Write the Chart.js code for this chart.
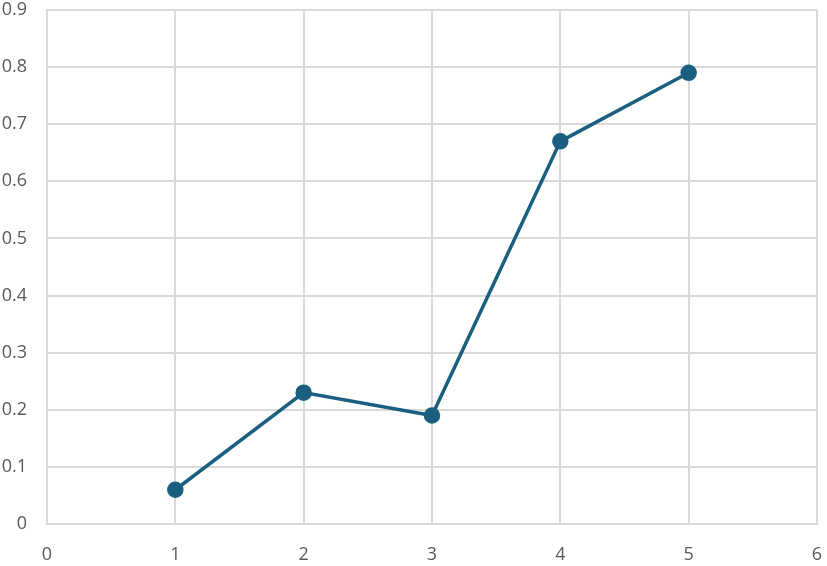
<!DOCTYPE html>
<html>
<head>
<meta charset="utf-8">
<script src="https://cdn.jsdelivr.net/npm/chart.js@4"></script>
<style>
  body { margin: 0; background: #fff; }
  #wrap { width: 827px; height: 566px; }
</style>
</head>
<body>
<div id="wrap"><canvas id="chart" width="827" height="566"></canvas></div>
<script>
// data //
const xValues = [1, 2, 3, 4, 5];
const yValues = [0.06, 0.23, 0.19, 0.67, 0.79];
const xTicks = [0, 1, 2, 3, 4, 5, 6];
const yTicks = [0, 0.1, 0.2, 0.3, 0.4, 0.5, 0.6, 0.7, 0.8, 0.9];

const points = xValues.map((x, i) => ({ x: x, y: yValues[i] }));
const lineColor = '#1a5e80';
const gridColor = '#d9d9d9';
const labelFont = { family: 'Open Sans, Liberation Sans, sans-serif', size: 18 };

const ctx = document.getElementById('chart');
new Chart(ctx, {
  type: 'line',
  data: {
    datasets: [{
      data: points,
      borderColor: lineColor,
      backgroundColor: lineColor,
      borderWidth: 3.5,
      pointRadius: 6.5,
      pointHoverRadius: 6.5,
      tension: 0
    }]
  },
  options: {
    responsive: false,
    animation: false,
    layout: { padding: { top: 9, right: 7, left: 0, bottom: 0 } },
    plugins: { legend: { display: false }, tooltip: { enabled: false } },
    scales: {
      x: {
        type: 'linear',
        min: xTicks[0],
        max: xTicks[xTicks.length - 1],
        afterBuildTicks: s => { s.ticks = xTicks.map(v => ({ value: v })); },
        afterFit: s => { s.height = 42; s.paddingLeft = 0; s.paddingRight = 0; },
        grid: { color: gridColor, lineWidth: 2, drawTicks: false },
        border: { color: gridColor, width: 2 },
        ticks: { color: '#595959', font: labelFont, padding: 20 }
      },
      y: {
        min: yTicks[0],
        max: yTicks[yTicks.length - 1],
        afterBuildTicks: s => { s.ticks = yTicks.map(v => ({ value: v })); },
        afterFit: s => { s.width = 47; s.paddingTop = 0; s.paddingBottom = 0; },
        grid: { color: gridColor, lineWidth: 2, drawTicks: false },
        border: { color: gridColor, width: 2 },
        ticks: { color: '#595959', font: labelFont, padding: 20 }
      }
    }
  }
});
</script>
</body>
</html>
